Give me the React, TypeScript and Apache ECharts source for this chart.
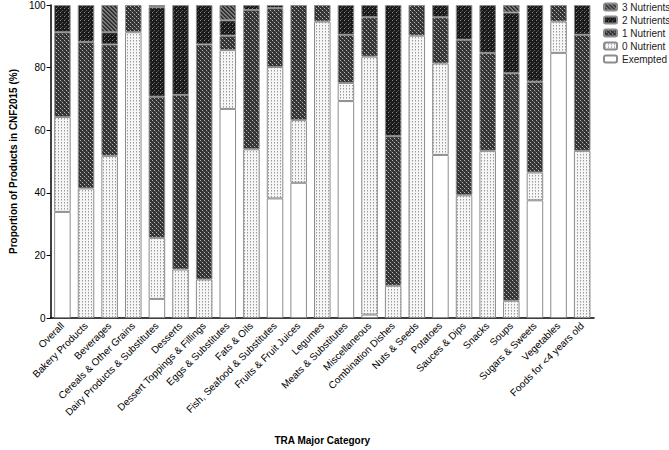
import React, { useEffect, useRef } from "react";
import * as echarts from "echarts";

const categories = [
  "Overall", "Bakery Products", "Beverages", "Cereals & Other Grains",
  "Dairy Products & Substitutes", "Desserts", "Dessert Toppings & Fillings",
  "Eggs & Substitutes", "Fats & Oils", "Fish, Seafood & Substitutes",
  "Fruits & Fruit Juices", "Legumes", "Meats & Substitutes", "Miscellaneous",
  "Combination Dishes", "Nuts & Seeds", "Potatoes", "Sauces & Dips", "Snacks",
  "Soups", "Sugars & Sweets", "Vegetables", "Foods for <4 years old",
];

const exempted = [33.9, 0, 0, 0, 6.1, 0, 0, 66.8, 0, 38.2, 43.2, 0, 69.3, 1.1, 0, 0, 52.1, 0, 0, 0, 37.6, 84.7, 0];
const zeroNutrient = [30.3, 41.4, 51.8, 91.3, 19.5, 15.5, 12.3, 18.8, 53.9, 42.0, 20.0, 94.7, 5.8, 82.4, 10.3, 90.2, 29.2, 39.2, 53.4, 5.5, 8.9, 10.0, 53.4];
const oneNutrient = [27.1, 46.8, 35.6, 8.7, 45.1, 55.8, 75.1, 4.6, 44.5, 18.8, 36.8, 5.3, 15.4, 12.6, 47.8, 9.8, 14.8, 49.7, 31.3, 72.7, 29.0, 5.3, 37.1];
const twoNutrients = [8.7, 11.8, 3.9, 0, 28.6, 28.7, 12.6, 4.9, 1.6, 1.0, 0, 0, 9.5, 3.9, 41.9, 0, 3.9, 11.1, 15.3, 19.4, 24.5, 0, 9.5];
const threeNutrients = [0, 0, 8.7, 0, 0.7, 0, 0, 4.9, 0, 0, 0, 0, 0, 0, 0, 0, 0, 0, 0, 2.4, 0, 0, 0];

const yTicks = [0, 20, 40, 60, 80, 100];
const legendOrder = ["3 Nutrients", "2 Nutrients", "1 Nutrient", "0 Nutrient", "Exempted"];

function makePattern(size: number, bg: string, pixels: [number, number, string][]) {
  const c = document.createElement("canvas");
  c.width = size;
  c.height = size;
  const ctx = c.getContext("2d")!;
  ctx.fillStyle = bg;
  ctx.fillRect(0, 0, size, size);
  for (const [x, y, col] of pixels) {
    ctx.fillStyle = col;
    ctx.fillRect(x, y, 1, 1);
  }
  return { image: c, repeat: "repeat" } as any;
}

export default function App() {
  const ref = useRef<HTMLDivElement>(null);
  useEffect(() => {
    if (!ref.current) return;
    const chart = echarts.init(ref.current, null, { renderer: "svg" });

    const p0 = makePattern(3, "#f6f6f6", [[1, 1, "#9a9a9a"], [1, 2, "#c8c8c8"]]);
    const p1 = makePattern(4, "#333333", [[0, 0, "#b8b8b8"], [2, 2, "#b8b8b8"], [1, 1, "#5a5a5a"], [3, 3, "#5a5a5a"]]);
    const p2 = makePattern(4, "#1a1a1a", [[0, 0, "#8a8a8a"], [2, 2, "#5a5a5a"], [1, 3, "#444"]]);
    const p3 = makePattern(4, "#7a7a7a", [[0, 0, "#2a2a2a"], [1, 1, "#2a2a2a"], [2, 2, "#2a2a2a"], [3, 3, "#2a2a2a"], [1, 0, "#3a3a3a"], [2, 1, "#3a3a3a"], [3, 2, "#3a3a3a"], [0, 3, "#3a3a3a"]]);

    const font = "Arial, 'Liberation Sans', sans-serif";
    const mk = (name: string, data: number[], fill: any) => ({
      name,
      type: "bar",
      stack: "total",
      barCategoryGap: "30%",
      data: data.map((v) => (v === 0 ? "-" : v)),
      itemStyle: { color: fill, borderColor: "#8c8c8c", borderWidth: 1 },
    });

    chart.setOption({
      animation: false,
      backgroundColor: "#ffffff",
      textStyle: { fontFamily: font },
      grid: { left: 42, right: 75, top: 5, bottom: 128 },
      legend: {
        data: legendOrder,
        orient: "vertical",
        left: 598,
        top: -3,
        itemWidth: 13,
        itemHeight: 7,
        itemGap: 3,
        textStyle: { fontSize: 10, color: "#222", fontFamily: font },
      },
      xAxis: {
        type: "category",
        data: categories,
        name: "TRA Major Category",
        nameLocation: "middle",
        nameGap: 117,
        nameTextStyle: { fontWeight: "bold", fontSize: 10, color: "#000", fontFamily: font },
        axisLine: { lineStyle: { color: "#000", width: 1.5 } },
        axisTick: { alignWithLabel: true, length: 4, lineStyle: { color: "#000" } },
        axisLabel: { rotate: 45, interval: 0, fontSize: 10, color: "#000", margin: 6, fontFamily: font },
      },
      yAxis: {
        type: "value",
        min: yTicks[0],
        max: yTicks[yTicks.length - 1],
        interval: 20,
        name: "Proportion of Products in CNF2015 (%)",
        nameLocation: "middle",
        nameGap: 31,
        nameTextStyle: { fontWeight: "bold", fontSize: 10, color: "#000", fontFamily: font },
        axisLine: { show: true, lineStyle: { color: "#000", width: 1.5 } },
        axisTick: { show: true, length: 4, lineStyle: { color: "#000" } },
        axisLabel: { fontSize: 10, color: "#000", margin: 5, fontFamily: font },
        splitLine: { show: false },
      },
      series: [
        mk("Exempted", exempted, "#ffffff"),
        mk("0 Nutrient", zeroNutrient, p0),
        mk("1 Nutrient", oneNutrient, p1),
        mk("2 Nutrients", twoNutrients, p2),
        mk("3 Nutrients", threeNutrients, p3),
      ],
    });
    return () => chart.dispose();
  }, []);
  return <div ref={ref} style={{ width: 669, height: 450, position: "absolute", left: 0, top: 0 }} />;
}
